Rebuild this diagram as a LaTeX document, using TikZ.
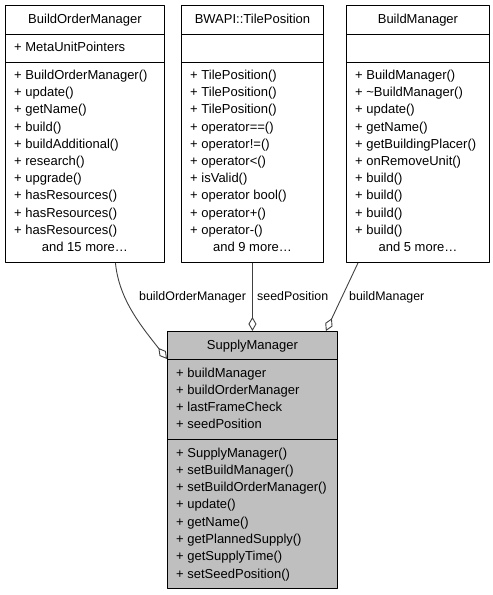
\documentclass[tikz,border=0pt]{standalone}
\usepackage{fontspec}
\setmainfont{Liberation Sans}
\usetikzlibrary{arrows.meta,calc}

\begin{document}
\begin{tikzpicture}[x=1pt, y=-1pt,
  font=\fontsize{13}{15}\selectfont,
  classbox/.style={draw=black, line width=0.9pt, minimum height=257pt, anchor=north west, inner sep=0pt},
  member/.style={anchor=base west, inner sep=0pt},
  title/.style={anchor=base, inner sep=0pt},
  aggr/.style={draw=black!75, line width=0.9pt, -{Diamond[open, fill=white, length=14pt, width=8pt]}},
  elabel/.style={anchor=base west, inner sep=0pt, font=\fontsize{12.4}{14}\selectfont},
  line join=round]

  \useasboundingbox (0,0) rectangle (493,595);

  % class boxes
  \node [classbox, minimum width=159pt] (bom) at (5,5) {};
  \node [classbox, minimum width=142pt] (tilepos) at (181,5) {};
  \node [classbox, minimum width=143pt] (bm) at (346,5) {};
  \node [classbox, minimum width=170pt, fill=black!25] (sm) at (167,331) {};

  % section lines
  \foreach \cls in {bom, tilepos, bm}{
    \draw [line width=0.9pt] ($(\cls.north west)+(0,29)$) -- ($(\cls.north east)+(0,29)$);
    \draw [line width=0.9pt] ($(\cls.north west)+(0,57)$) -- ($(\cls.north east)+(0,57)$);
  }
  \draw [line width=0.9pt] ($(sm.north west)+(0,28)$) -- ($(sm.north east)+(0,28)$);
  \draw [line width=0.9pt] ($(sm.north west)+(0,108)$) -- ($(sm.north east)+(0,108)$);

  % BuildOrderManager
  \node [title] (bomname) at ($(bom.north)+(0,18.5)$) {BuildOrderManager};
  \node [member] (bomattr) at ($(bom.north west)+(9,46.5)$) {+ MetaUnitPointers};
  \foreach \m [count=\i from 0] in {BuildOrderManager(), update(), getName(), build(),
    buildAdditional(), research(), upgrade(), hasResources(), hasResources(), hasResources()}
    \node [member] at ($(bom.north west)+(9,74.5+17.2*\i)$) {+ \m};
  \node [title] (bommore) at ($(bom.north)+(0,74.5+172)$) {and 15 more\dots};

  % BWAPI::TilePosition
  \node [title] (tilename) at ($(tilepos.north)+(0,18.5)$) {BWAPI::TilePosition};
  \foreach \m [count=\i from 0] in {TilePosition(), TilePosition(), TilePosition(), operator==(),
    operator!=(), operator<(), isValid(), operator bool(), operator+(), operator-()}
    \node [member] at ($(tilepos.north west)+(9,74.5+17.2*\i)$) {+ \m};
  \node [title] (tilemore) at ($(tilepos.north)+(0,74.5+172)$) {and 9 more\dots};

  % BuildManager
  \node [title] (bmname) at ($(bm.north)+(0,18.5)$) {BuildManager};
  \foreach \m [count=\i from 0] in {BuildManager(), \textasciitilde BuildManager(), update(), getName(),
    getBuildingPlacer(), onRemoveUnit(), build(), build(), build(), build()}
    \node [member] at ($(bm.north west)+(9,74.5+17.2*\i)$) {+ \m};
  \node [title] (bmmore) at ($(bm.north)+(0,74.5+172)$) {and 5 more\dots};

  % SupplyManager
  \node [title] (smname) at ($(sm.north)+(0,18.5)$) {SupplyManager};
  \foreach \m [count=\i from 0] in {buildManager, buildOrderManager, lastFrameCheck, seedPosition}
    \node [member] at ($(sm.north west)+(9,46+17.3*\i)$) {+ \m};
  \foreach \m [count=\i from 0] in {SupplyManager(), setBuildManager(), setBuildOrderManager(), update(),
    getName(), getPlannedSupply(), getSupplyTime(), setSeedPosition()}
    \node [member] at ($(sm.north west)+(9,126+17.3*\i)$) {+ \m};

  % aggregations
  \draw [aggr] ($(bom.south)+(30.5,0)$) .. controls (119,300) and (142,327) .. ($(sm.north west)+(0,28)$);
  \draw [aggr] (tilepos.south) -- (sm.north);
  \draw [aggr] ($(bm.south west)+(12,0)$) -- ($(sm.north east)+(-12,0)$);

  % edge labels
  \node [elabel] (lbom) at (139,300) {buildOrderManager};
  \node [elabel] (ltile) at (257,300) {seedPosition};
  \node [elabel] (lbm) at (349,300) {buildManager};
\end{tikzpicture}
\end{document}
